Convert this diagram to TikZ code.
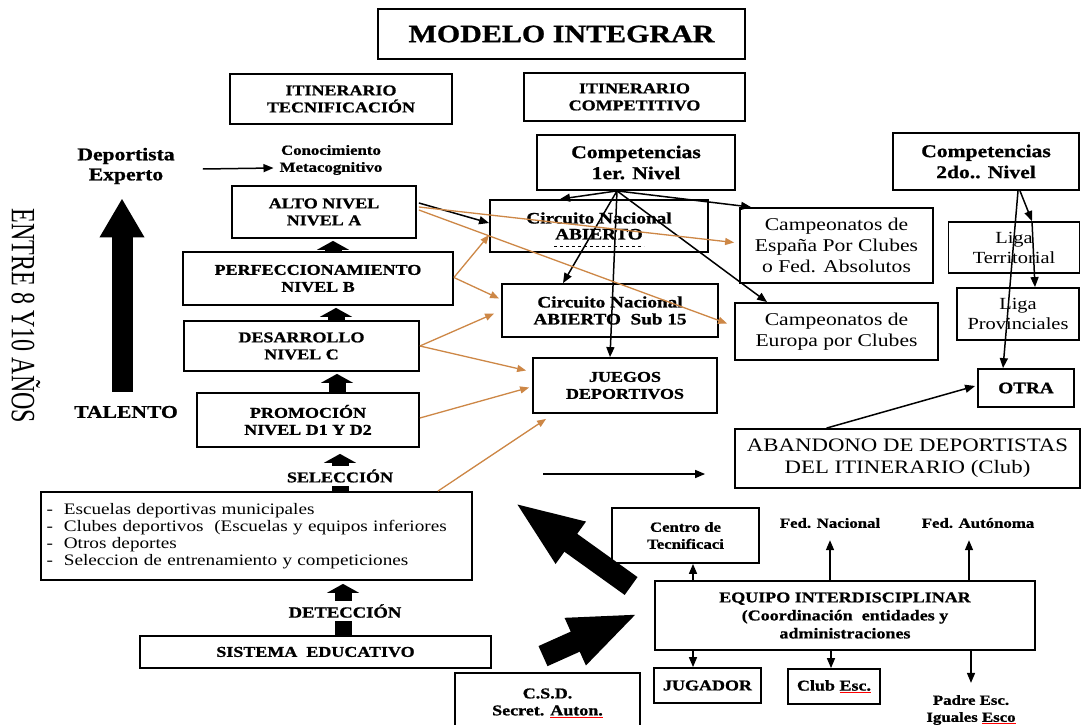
\documentclass[tikz,border=0pt]{standalone}
\usepackage{fontspec}
\setmainfont{Liberation Serif}[FakeStretch=1.2, BoldFeatures={FakeBold=1}]
\usetikzlibrary{arrows.meta}
\definecolor{orangeln}{RGB}{205,135,70}
% red mark under a word
\newcommand{\spellmark}[1]{\textcolor{red}{\underline{\textcolor{black}{#1}}}}
\newcommand{\fs}[2]{\fontsize{#1}{#2}\selectfont}

\begin{document}
\begin{tikzpicture}[x=1pt,y=-1pt,
  bx/.style={draw, line width=1.8pt, inner sep=0pt, align=center, font=\bfseries\fs{15}{17}},
  sz/.style 2 args={minimum width=#1pt, minimum height=#2pt},
  rg/.style={font=\fs{18}{21}},
  txt/.style={inner sep=0pt, align=center, font=\bfseries\fs{15}{17}},
  arr/.style={-{Triangle[length=10pt,width=8pt]}, line width=1.5pt},
  oarr/.style={-{Triangle[length=9pt,width=7pt]}, line width=1.3pt, draw=orangeln},
  lvl/.style={line width=17pt, -{Triangle[length=9pt,width=32pt]}},
  bigarr/.style={line width=21pt, -{Triangle[length=39pt,width=42pt]}},
  diag/.style={line width=22pt, -{Triangle[length=70pt,width=46pt]}}
]
\fill[white] (0,0) rectangle (1081,725);
\useasboundingbox (0,0) rectangle (1081,725);

% titles
\node[bx, sz={367}{50}, font=\bfseries\fs{25}{28}] (modelo) at (561.5,34) {MODELO INTEGRAR};
\node[bx, sz={222}{50}] (itec) at (341,99) {ITINERARIO\\TECNIFICACIÓN};
\node[bx, sz={221}{48}] (icomp) at (634.5,97) {ITINERARIO\\COMPETITIVO};

% competitive itinerary
\node[bx, sz={198}{55}, font=\bfseries\fs{18}{21}] (comp1) at (636,162.5) {Competencias\\1er. Nivel};
\node[bx, sz={186}{57}, font=\bfseries\fs{18}{21}] (comp2) at (986,161.5) {Competencias\\2do.. Nivel};
\node[bx, sz={218}{52}, font=\bfseries\fs{16}{16}] (abierto) at (599,226) {Circuito Nacional\\ABIERTO};
\draw[line width=1pt, dash pattern=on 3pt off 3pt] ([shift={(-45,20)}]abierto.center) -- ([shift={(45,20)}]abierto.center);
\node[bx, rg, sz={193}{75}] (espana) at (836.5,245.5) {Campeonatos de\\España Por Clubes\\o Fed. Absolutos};
\node[bx, font=\fs{17}{20}, sz={131}{51}] (territorial) at (1014,247.5) {Liga\\Territorial};
\node[bx, sz={216}{53}, font=\bfseries\fs{16}{17}] (sub15) at (610,310.5) {Circuito Nacional\\ABIERTO\ \ Sub 15};
\node[bx, rg, sz={203}{57}] (europa) at (836.5,331.5) {Campeonatos de\\Europa por Clubes};
\node[bx, font=\fs{17}{20}, sz={122}{52}] (provin) at (1018,314) {Liga\\Provinciales};
\node[bx, sz={184}{55}] (juegos) at (625,385.5) {JUEGOS\\DEPORTIVOS};
\node[bx, sz={96}{38}, font=\bfseries\fs{16}{18}] (otra) at (1026,388) {OTRA};
\node[bx, font=\fs{19}{22}, sz={345}{59}] (aband) at (907.5,458.5) {ABANDONO DE DEPORTISTAS\\DEL ITINERARIO (Club)};

% technical itinerary
\node[bx, sz={184}{52}] (alto) at (324,212) {ALTO NIVEL\\NIVEL A};
\node[bx, sz={270}{53}] (perf) at (318,278.5) {PERFECCIONAMIENTO\\NIVEL B};
\node[bx, sz={235}{50}] (des) at (301.5,346) {DESARROLLO\\NIVEL C};
\node[bx, sz={222}{54}] (prom) at (308,420) {PROMOCIÓN\\NIVEL D1 Y D2};
\node[bx, sz={431}{88}, text width=420pt, align=left, font=\fs{16}{17}] (escuelas) at (256.5,536)
  {-\hspace{11pt}Escuelas deportivas municipales\\
   -\hspace{11pt}Clubes deportivos\ \ (Escuelas y equipos inferiores\\
   -\hspace{11pt}Otros deportes\\
   -\hspace{11pt}Seleccion de entrenamiento y competiciones};
\node[bx, sz={351}{32}] (sistema) at (315.5,652) {SISTEMA\ \ EDUCATIVO};

% coordination
\node[bx, sz={147}{55}, font=\bfseries\fs{14}{17}] (centro) at (685.5,535.5) {Centro de\\Tecnificaci};
\node[bx, sz={380}{69}, font=\bfseries\fs{15}{18}] (equipo) at (845,615.5) {EQUIPO INTERDISCIPLINAR\\(Coordinación\ \ entidades y\\administraciones};
\node[bx, sz={107}{35}] (jugador) at (707.5,685.5) {JUGADOR};
\node[bx, sz={92}{35}] (club) at (834,686.5) {Club \spellmark{Esc.}};
\node[bx, sz={185}{60}] (csd) at (547.5,703) {C.S.D.\\Secret. \spellmark{Auton.}};

% free labels
\node[txt, font=\bfseries\fs{18}{20}] (dep) at (126,166) {Deportista\\Experto};
\node[txt, font=\bfseries\fs{14}{17}] (cono) at (331,160) {Conocimiento\\Metacognitivo};
\node[txt, font=\bfseries\fs{18}{20}] (talento) at (126,412) {TALENTO};
\node[txt, font=\bfseries\fs{14}{17}] (fednac) at (830,523) {Fed. Nacional};
\node[txt, font=\bfseries\fs{14}{17}] (fedaut) at (978,523) {Fed. Autónoma};
\node[txt, font=\bfseries\fs{14}{17}] (padre) at (971,710) {Padre Esc.\\Iguales \spellmark{Esco}};
\node[rotate=-90, inner sep=0pt, font=\fs{34}{34}] (edad) at (26,316) {\scalebox{0.59}[1]{ENTRE 8 Y10 AÑOS}};

% black connectors
\draw[arr] ([shift={(28,3)}]dep.east) -- ([shift={(-6,8)}]cono.west);
\draw[arr] ([shift={(-19,0)}]comp1.south) -- ([shift={(-39,0)}]abierto.north);
\draw[arr] ([shift={(-19,0)}]comp1.south) -- ([shift={(-47,0)}]sub15.north);
\draw[arr] ([shift={(-19,0)}]comp1.south) -- ([shift={(-15,0)}]juegos.north);
\draw[arr] ([shift={(-19,0)}]comp1.south) -- ([shift={(12,0)}]espana.north west);
\draw[arr] ([shift={(-19,0)}]comp1.south) -- ([shift={(33,0)}]europa.north west);
\draw[arr] ([shift={(2,-9)}]alto.east) -- ([shift={(0,-3)}]abierto.west);
\draw[arr] ([shift={(34,0)}]comp2.south) -- ([shift={(18,0)}]territorial.north);
\draw[arr] ([shift={(18,0)}]territorial.north) -- ([shift={(17,0)}]provin.north);
\draw[arr] ([shift={(32,0)}]comp2.south) -- ([shift={(-23,0)}]otra.north);
\draw[arr] ([shift={(-81,0)}]aband.north) -- ([shift={(-2,-2)}]otra.west);
\coordinate (leave) at (543,474);
\draw[arr] (leave) -- ([shift={(-29,15.5)}]aband.west);
\draw[arr] ([shift={(-152,0)}]equipo.north) -- ([shift={(7.5,0)}]centro.south);
\draw[arr] ([shift={(-15,0)}]equipo.north) -- ([shift={(0,12)}]fednac.south);
\draw[arr] ([shift={(124,0)}]equipo.north) -- ([shift={(-9,12)}]fedaut.south);
\draw[arr] ([shift={(-152,0)}]equipo.south) -- ([shift={(-14.5,0)}]jugador.north);
\draw[arr] ([shift={(-14,0)}]equipo.south) -- ([shift={(-3,0)}]club.north);
\draw[arr] ([shift={(126,0)}]equipo.south) -- ([shift={(0,-12)}]padre.north);

% orange connectors
\draw[oarr] ([shift={(2,-5)}]alto.east) -- ([shift={(-5,-3)}]espana.west);
\draw[oarr] ([shift={(2,-2)}]alto.east) -- ([shift={(-7,-8)}]europa.west);
\draw[oarr] ([shift={(0,-1)}]perf.east) -- ([shift={(0,9)}]abierto.west);
\draw[oarr] ([shift={(0,-1)}]perf.east) -- ([shift={(-2,-12)}]sub15.west);
\draw[oarr] (des.east) -- ([shift={(-7,3)}]sub15.west);
\draw[oarr] (des.east) -- ([shift={(-6,-15)}]juegos.west);
\draw[oarr] ([shift={(0,-2)}]prom.east) -- ([shift={(-3,2)}]juegos.west);
\draw[oarr] ([shift={(-35,0)}]escuelas.north east) -- ([shift={(14,5)}]juegos.south west);

% block arrows
\draw[bigarr] ([shift={(-4,-14)}]talento.north) -- ([shift={(-4,14)}]dep.south);
\draw[lvl] ([shift={(15,0)}]perf.north) -- ([shift={(9,2)}]alto.south);
\draw[lvl] ([shift={(34.5,0)}]des.north) -- ([shift={(18,2)}]perf.south);
\draw[lvl] ([shift={(29,0)}]prom.north) -- ([shift={(35.5,2)}]des.south);
\draw[lvl] ([shift={(83.5,0)}]escuelas.north) -- ([shift={(32,6)}]prom.south);
\draw[lvl] ([shift={(27.5,0)}]sistema.north) -- ([shift={(86.5,3)}]escuelas.south);
\node[txt, fill=white, inner xsep=2pt, inner ysep=3pt, font=\bfseries\fs{15}{17}] (selec) at (340,476) {SELECCIÓN};
\node[txt, fill=white, inner xsep=2pt, inner ysep=3pt, font=\bfseries\fs{15.5}{17}] (detec) at (345,611) {DETECCIÓN};
\draw[diag] ([shift={(-23,-29.5)}]equipo.west) -- ([shift={(41,-34)}]escuelas.east);
\draw[diag] ([shift={(-4.5,-16)}]csd.north) -- ([shift={(-15,-2.5)}]equipo.west);
\end{tikzpicture}
\end{document}
